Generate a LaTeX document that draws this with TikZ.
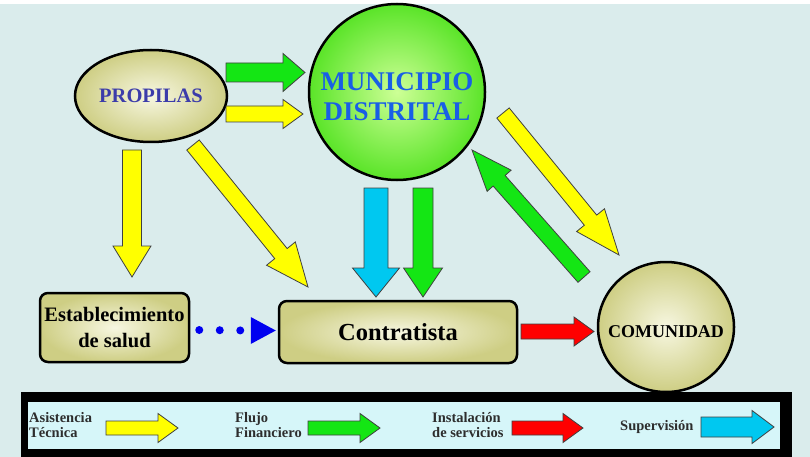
\documentclass[tikz,border=0pt]{standalone}
\usepackage{fontspec}
\setmainfont{Liberation Serif}
\newfontfamily\tms{Liberation Serif}
\usetikzlibrary{calc,shapes.geometric}
\definecolor{bg}{RGB}{218,236,236}
\definecolor{legbg}{RGB}{214,246,249}
\definecolor{olivein}{RGB}{247,247,225}
\definecolor{oliveout}{RGB}{206,206,132}
\definecolor{greenin}{RGB}{205,255,150}
\definecolor{greenout}{RGB}{90,228,40}
\definecolor{ayellow}{RGB}{255,255,0}
\definecolor{agreen}{RGB}{20,230,20}
\definecolor{ablue}{RGB}{0,200,240}
\definecolor{ared}{RGB}{255,0,0}
\definecolor{munblue}{RGB}{25,95,230}
\definecolor{propblue}{RGB}{60,60,170}
\definecolor{legtext}{RGB}{45,45,45}
\definecolor{dotblue}{RGB}{0,0,240}
\newcommand\blockarrow[6]{%
  \coordinate (hb) at ($(#2)!#6!(#1)$);
  \draw[barrow, fill=#3] ($(#1)!#4!90:(#2)$) -- ($(hb)!#4!-90:(#1)$) -- ($(hb)!#5!-90:(#1)$) -- (#2) -- ($(hb)!#5!90:(#1)$) -- ($(hb)!#4!90:(#1)$) -- ($(#1)!#4!-90:(#2)$) -- cycle;}
\tikzset{
  barrow/.style={draw=black!75, line width=0.8pt, line join=miter},
  olivefill/.style={inner color=olivein, outer color=oliveout},
  bigoval/.style={ellipse, draw=black, line width=2.5pt, inner sep=0pt, align=center},
  rbox/.style={rectangle, rounded corners=8pt, draw=black, line width=2.5pt, inner sep=0pt, align=center, olivefill},
  txt/.style={inner sep=0pt, align=center},
  legtxt/.style={anchor=west, inner sep=0pt, align=left, text=legtext, font=\tms\fontsize{14.5}{15}\selectfont\bfseries},
}
\begin{document}
\begin{tikzpicture}[x=1pt,y=-1pt]
\useasboundingbox (0,0) rectangle (810,457);
\fill[white] (0,0) rectangle (810,457);
\fill[bg] (0,4) rectangle (810,457);

% nodes
\node[bigoval, olivefill, minimum width=152pt, minimum height=92pt, text=propblue,
  font=\tms\fontsize{20.5}{22}\selectfont\bfseries] (prop) at (151,96) {PROPILAS};
\node[bigoval, inner color=greenin, outer color=greenout, minimum width=176pt, minimum height=176pt] (mun) at (397,92) {};
\node[txt, text=munblue, font=\tms\fontsize{27}{30}\selectfont\bfseries] (muntext) at (397,97) {MUNICIPIO\\DISTRITAL};
\node[bigoval, olivefill, minimum width=136pt, minimum height=130pt] (com) at (666,327) {};
\node[txt, font=\tms\fontsize{18}{20}\selectfont\bfseries] (comtext) at (666,332) {COMUNIDAD};
\node[rbox, minimum width=149pt, minimum height=69pt,
  font=\tms\fontsize{20.5}{26}\selectfont\bfseries] (est) at (114.5,327.5) {Establecimiento\\de salud};
\node[rbox, minimum width=238pt, minimum height=62pt,
  font=\tms\fontsize{24.5}{26}\selectfont\bfseries] (con) at (398,332) {Contratista};

% arrow end points
\coordinate (g1a) at (226,72.5);  \coordinate (g1b) at (305,72.5);
\coordinate (y1a) at (226,114);   \coordinate (y1b) at (303,114);
\coordinate (y2a) at (132,150);   \coordinate (y2b) at (132,277);
\coordinate (y3a) at (193,145);   \coordinate (y3b) at (308,287);
\coordinate (b1a) at (376,188);   \coordinate (b1b) at (376,297);
\coordinate (g2a) at (423,188);   \coordinate (g2b) at (423,297);
\coordinate (y4a) at (503,113);   \coordinate (y4b) at (619,255);
\coordinate (g3a) at (584,277);   \coordinate (g3b) at (472,150);
\coordinate (r1a) at (521,331.5); \coordinate (r1b) at (594,331.5);

\blockarrow{g1a}{g1b}{agreen}{9.5pt}{19pt}{22pt}
\blockarrow{y1a}{y1b}{ayellow}{8pt}{14.5pt}{20pt}
\blockarrow{y2a}{y2b}{ayellow}{9.5pt}{19pt}{31pt}
\blockarrow{y3a}{y3b}{ayellow}{8pt}{18.5pt}{43pt}
\blockarrow{b1a}{b1b}{ablue}{12pt}{23.5pt}{29pt}
\blockarrow{g2a}{g2b}{agreen}{10pt}{19.5pt}{29pt}
\blockarrow{y4a}{y4b}{ayellow}{8pt}{18pt}{45pt}
\blockarrow{g3a}{g3b}{agreen}{8pt}{16pt}{41pt}
\blockarrow{r1a}{r1b}{ared}{7.5pt}{14.5pt}{20pt}

% dotted arrow
\draw[dotblue, line width=8pt, line cap=round, dash pattern=on 0pt off 20.5pt]
  ($(est.east)+(9,2.5)$) -- ($(con.west)+(-30,-1.5)$);
\fill[dotblue] ($(con.west)+(-27,-15)$) -- ($(con.west)+(-2,-1.5)$) -- ($(con.west)+(-27,12)$) -- cycle;

% legend
\fill[black] (21,392) rectangle (792,457);
\fill[legbg] (28,402) rectangle (780,449);
\node[legtxt] (l1) at (29,425.5) {Asistencia\\Técnica};
\node[legtxt] (l2) at (235,425.5) {Flujo\\Financiero};
\node[legtxt] (l3) at (432,425.5) {Instalación\\de servicios};
\node[legtxt] (l4) at (620,427) {Supervisión};
\coordinate (la1) at (106,428); \coordinate (lb1) at (178,428);
\coordinate (la2) at (308,428); \coordinate (lb2) at (380,428);
\coordinate (la3) at (512,428); \coordinate (lb3) at (583,428);
\coordinate (la4) at (701,427); \coordinate (lb4) at (774,427);
\blockarrow{la1}{lb1}{ayellow}{7pt}{14.5pt}{20pt}
\blockarrow{la2}{lb2}{agreen}{7pt}{14.5pt}{20pt}
\blockarrow{la3}{lb3}{ared}{7pt}{14.5pt}{20pt}
\blockarrow{la4}{lb4}{ablue}{10pt}{16.5pt}{22pt}
\end{tikzpicture}
\end{document}
